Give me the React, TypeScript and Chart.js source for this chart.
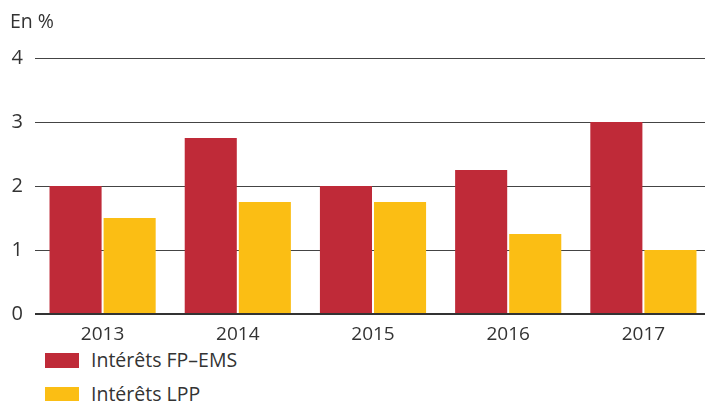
import React, { useEffect, useRef } from "react";
import { Chart, registerables } from "chart.js";

Chart.register(...registerables);

const categories = ["2013", "2014", "2015", "2016", "2017"];
const fpEms = [2, 2.75, 2, 2.25, 3];
const lpp = [1.5, 1.75, 1.75, 1.25, 1];
const seriesNames = ["Intérêts FP–EMS", "Intérêts LPP"];
const seriesColors = ["#BF2A38", "#FBBE14"];
const yTicks = [0, 1, 2, 3, 4];
const unitLabel = "En %";

const FONT = "'Open Sans', Lato, sans-serif";

export default function App() {
  const ref = useRef<HTMLCanvasElement | null>(null);
  useEffect(() => {
    if (!ref.current) return;
    const chart = new Chart(ref.current, {
      type: "bar",
      data: {
        labels: categories,
        datasets: [
          { label: seriesNames[0], data: fpEms, backgroundColor: seriesColors[0] },
          { label: seriesNames[1], data: lpp, backgroundColor: seriesColors[1] },
        ],
      },
      options: {
        responsive: false,
        animation: false,
        devicePixelRatio: 1,
        layout: { padding: { top: 58, right: 1, left: 0, bottom: 0 } },
        datasets: {
          bar: { categoryPercentage: 0.8, barPercentage: 0.963 },
        },
        plugins: { legend: { display: false }, tooltip: { enabled: false }, title: { display: false } },
        scales: {
          x: {
            grid: { display: false },
            border: { display: false },
            ticks: { font: { family: FONT, size: 19 }, color: "#333", padding: 1, maxRotation: 0 },
            afterFit: (s: any) => { s.height = 31; },
          },
          y: {
            min: 0,
            max: 4,
            afterBuildTicks: (s: any) => { s.ticks = yTicks.map((v) => ({ value: v })); },
            grid: {
              color: (c: any) => (c.tick && c.tick.value === 0 ? "#333" : "#444"),
              lineWidth: (c: any) => (c.tick && c.tick.value === 0 ? 2 : 1),
              drawTicks: false,
            },
            border: { display: false },
            ticks: { font: { family: FONT, size: 20 }, color: "#333", padding: 12 },
            afterFit: (s: any) => { s.width = 35; },
          },
        },
      },
    });
    return () => chart.destroy();
  }, []);

  const legendRow = (i: number, top: number) => (
    <div style={{ position: "absolute", left: 45, top, display: "flex", alignItems: "center" }}>
      <div style={{ width: 34, height: 15, background: seriesColors[i] }} />
      <span style={{ marginLeft: 12, fontFamily: FONT, fontSize: 19.5, color: "#333", lineHeight: "20px" }}>
        {seriesNames[i]}
      </span>
    </div>
  );

  return (
    <div style={{ position: "absolute", left: 0, top: 0, width: 705, height: 401, overflow: "hidden", background: "#fff" }}>
      <canvas ref={ref} width={712} height={345} style={{ position: "absolute", left: 0, top: 0 }} />
      <div style={{ position: "absolute", left: 10, top: 7, fontFamily: FONT, fontSize: 19.5, color: "#333" }}>{unitLabel}</div>
      {legendRow(0, 350)}
      {legendRow(1, 384)}
    </div>
  );
}
